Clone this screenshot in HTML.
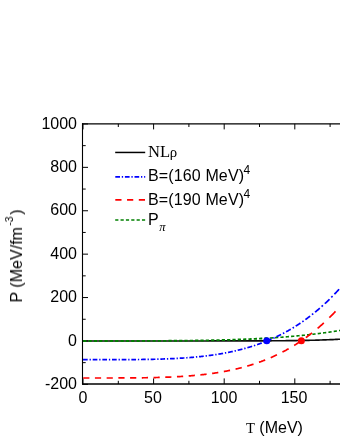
<!DOCTYPE html>
<html><head><meta charset="utf-8"><style>
html,body{margin:0;padding:0;background:#fff;}
body{width:340px;height:440px;position:relative;overflow:hidden;font-family:"Liberation Sans",sans-serif;font-size:16px;color:#000;}
.t{position:absolute;will-change:transform;white-space:nowrap;line-height:16px;}
.yl{text-align:right;width:60px;left:16.5px;}
.xl{text-align:center;width:60px;}
.s{font-family:"Liberation Serif",serif;}
sup,sub{font-size:12px;line-height:0;}
</style></head><body>
<svg width="340" height="440" viewBox="0 0 340 440" style="position:absolute;left:0;top:0"><path d="M82.5 384.6 L82.5 123.2" fill="none" stroke="#000" stroke-width="1.1"/><path d="M82 123.8 L340 123.8" fill="none" stroke="#000" stroke-width="1.2"/><path d="M82 384.0 L340 384.0" fill="none" stroke="#000" stroke-width="1.5"/><path d="M82.5 384.35 h5.5 M82.5 362.65 h3.2 M82.5 340.95 h5.5 M82.5 319.25 h3.2 M82.5 297.55 h5.5 M82.5 275.85 h3.2 M82.5 254.15 h5.5 M82.5 232.45 h3.2 M82.5 210.75 h5.5 M82.5 189.05 h3.2 M82.5 167.35 h5.5 M82.5 145.65 h3.2 M82.5 123.95 h5.5 M83.00 384 v-5.6 M83.00 123.8 v5.6 M118.30 384 v-3.2 M118.30 123.8 v3.2 M153.60 384 v-5.6 M153.60 123.8 v5.6 M188.90 384 v-3.2 M188.90 123.8 v3.2 M224.20 384 v-5.6 M224.20 123.8 v5.6 M259.50 384 v-3.2 M259.50 123.8 v3.2 M294.80 384 v-5.6 M294.80 123.8 v5.6 M330.10 384 v-3.2 M330.10 123.8 v3.2" fill="none" stroke="#000" stroke-width="1"/><path d="M83.00 340.95 L84.41 340.95 L85.82 340.95 L87.24 340.95 L88.65 340.95 L90.06 340.95 L91.47 340.95 L92.88 340.95 L94.30 340.95 L95.71 340.95 L97.12 340.95 L98.53 340.95 L99.94 340.95 L101.36 340.95 L102.77 340.95 L104.18 340.95 L105.59 340.95 L107.00 340.95 L108.42 340.95 L109.83 340.95 L111.24 340.95 L112.65 340.95 L114.06 340.95 L115.48 340.95 L116.89 340.95 L118.30 340.95 L119.71 340.95 L121.12 340.95 L122.54 340.95 L123.95 340.95 L125.36 340.95 L126.77 340.95 L128.18 340.95 L129.60 340.95 L131.01 340.95 L132.42 340.95 L133.83 340.95 L135.24 340.95 L136.66 340.95 L138.07 340.95 L139.48 340.95 L140.89 340.95 L142.30 340.95 L143.72 340.95 L145.13 340.95 L146.54 340.95 L147.95 340.95 L149.36 340.95 L150.78 340.95 L152.19 340.95 L153.60 340.95 L155.01 340.95 L156.42 340.95 L157.84 340.95 L159.25 340.95 L160.66 340.95 L162.07 340.95 L163.48 340.95 L164.90 340.95 L166.31 340.95 L167.72 340.95 L169.13 340.95 L170.54 340.95 L171.96 340.95 L173.37 340.95 L174.78 340.95 L176.19 340.95 L177.60 340.95 L179.02 340.95 L180.43 340.95 L181.84 340.95 L183.25 340.95 L184.66 340.95 L186.08 340.95 L187.49 340.95 L188.90 340.95 L190.31 340.95 L191.72 340.95 L193.14 340.95 L194.55 340.95 L195.96 340.95 L197.37 340.95 L198.78 340.95 L200.20 340.95 L201.61 340.95 L203.02 340.95 L204.43 340.95 L205.84 340.95 L207.26 340.94 L208.67 340.94 L210.08 340.94 L211.49 340.94 L212.90 340.94 L214.32 340.94 L215.73 340.94 L217.14 340.94 L218.55 340.94 L219.96 340.94 L221.38 340.94 L222.79 340.94 L224.20 340.94 L225.61 340.93 L227.02 340.93 L228.44 340.93 L229.85 340.93 L231.26 340.93 L232.67 340.93 L234.08 340.93 L235.50 340.92 L236.91 340.92 L238.32 340.92 L239.73 340.92 L241.14 340.91 L242.56 340.91 L243.97 340.91 L245.38 340.91 L246.79 340.90 L248.20 340.90 L249.62 340.90 L251.03 340.89 L252.44 340.89 L253.85 340.88 L255.26 340.88 L256.68 340.87 L258.09 340.87 L259.50 340.86 L260.91 340.86 L262.32 340.85 L263.74 340.85 L265.15 340.84 L266.56 340.83 L267.97 340.82 L269.38 340.82 L270.80 340.81 L272.21 340.80 L273.62 340.79 L275.03 340.78 L276.44 340.77 L277.86 340.76 L279.27 340.75 L280.68 340.74 L282.09 340.72 L283.50 340.71 L284.92 340.70 L286.33 340.68 L287.74 340.67 L289.15 340.65 L290.56 340.64 L291.98 340.62 L293.39 340.60 L294.80 340.58 L296.21 340.56 L297.62 340.54 L299.04 340.52 L300.45 340.49 L301.86 340.47 L303.27 340.44 L304.68 340.42 L306.10 340.39 L307.51 340.36 L308.92 340.33 L310.33 340.30 L311.74 340.27 L313.16 340.23 L314.57 340.20 L315.98 340.16 L317.39 340.12 L318.80 340.08 L320.22 340.03 L321.63 339.99 L323.04 339.94 L324.45 339.90 L325.86 339.85 L327.28 339.79 L328.69 339.74 L330.10 339.68 L331.51 339.62 L332.92 339.56 L334.34 339.50 L335.75 339.43 L337.16 339.36 L338.57 339.29 L339.98 339.21 L341.40 339.14 L342.81 339.06" fill="none" stroke="#0c0c0c" stroke-width="1.65"/><path d="M83.20 340.95 L83.73 340.95 L84.27 340.95 L84.80 340.95 L85.33 340.95 L85.87 340.95 L86.40 340.95 M88.53 340.95 L89.06 340.95 L89.60 340.95 L90.13 340.95 L90.66 340.95 L91.20 340.95 L91.73 340.95 M93.86 340.95 L94.39 340.95 L94.93 340.95 L95.46 340.95 L95.99 340.95 L96.53 340.95 L97.06 340.95 M99.19 340.95 L99.72 340.95 L100.26 340.95 L100.79 340.95 L101.32 340.95 L101.86 340.95 L102.39 340.95 M104.52 340.95 L105.05 340.95 L105.59 340.95 L106.12 340.95 L106.65 340.95 L107.19 340.95 L107.72 340.95 M109.85 340.95 L110.38 340.95 L110.92 340.95 L111.45 340.95 L111.98 340.95 L112.52 340.95 L113.05 340.95 M115.18 340.95 L115.71 340.95 L116.25 340.95 L116.78 340.95 L117.31 340.95 L117.85 340.95 L118.38 340.95 M120.51 340.95 L121.04 340.94 L121.58 340.94 L122.11 340.94 L122.64 340.94 L123.18 340.94 L123.71 340.94 M125.84 340.94 L126.37 340.94 L126.91 340.94 L127.44 340.94 L127.97 340.94 L128.51 340.94 L129.04 340.94 M131.17 340.94 L131.70 340.94 L132.24 340.94 L132.77 340.94 L133.30 340.93 L133.84 340.93 L134.37 340.93 M136.50 340.93 L137.03 340.93 L137.57 340.93 L138.10 340.93 L138.63 340.93 L139.17 340.93 L139.70 340.93 M141.83 340.92 L142.36 340.92 L142.90 340.92 L143.43 340.92 L143.96 340.92 L144.50 340.92 L145.03 340.91 M147.16 340.91 L147.69 340.91 L148.23 340.91 L148.76 340.91 L149.29 340.90 L149.83 340.90 L150.36 340.90 M152.49 340.89 L153.02 340.89 L153.56 340.89 L154.09 340.89 L154.62 340.89 L155.16 340.88 L155.69 340.88 M157.82 340.87 L158.35 340.87 L158.89 340.87 L159.42 340.87 L159.95 340.87 L160.49 340.86 L161.02 340.86 M163.15 340.85 L163.68 340.85 L164.22 340.85 L164.75 340.84 L165.28 340.84 L165.82 340.84 L166.35 340.83 M168.48 340.82 L169.01 340.82 L169.55 340.82 L170.08 340.81 L170.61 340.81 L171.15 340.80 L171.68 340.80 M173.81 340.79 L174.34 340.78 L174.88 340.78 L175.41 340.77 L175.94 340.77 L176.48 340.77 L177.01 340.76 M179.14 340.74 L179.67 340.74 L180.21 340.74 L180.74 340.73 L181.27 340.73 L181.81 340.72 L182.34 340.72 M184.47 340.70 L185.00 340.69 L185.54 340.68 L186.07 340.68 L186.60 340.67 L187.14 340.67 L187.67 340.66 M189.80 340.64 L190.33 340.63 L190.87 340.62 L191.40 340.62 L191.93 340.61 L192.47 340.61 L193.00 340.60 M195.13 340.57 L195.66 340.56 L196.20 340.56 L196.73 340.55 L197.26 340.54 L197.80 340.53 L198.33 340.53 M200.46 340.49 L200.99 340.48 L201.53 340.48 L202.06 340.47 L202.59 340.46 L203.13 340.45 L203.66 340.44 M205.79 340.40 L206.32 340.39 L206.86 340.38 L207.39 340.37 L207.92 340.37 L208.46 340.35 L208.99 340.34 M211.12 340.30 L211.65 340.29 L212.19 340.28 L212.72 340.27 L213.25 340.26 L213.79 340.25 L214.32 340.24 M216.45 340.19 L216.98 340.18 L217.52 340.16 L218.05 340.15 L218.58 340.14 L219.12 340.13 L219.65 340.11 M221.78 340.06 L222.31 340.05 L222.85 340.03 L223.38 340.02 L223.91 340.00 L224.45 339.99 L224.98 339.97 M227.11 339.91 L227.64 339.90 L228.18 339.88 L228.71 339.87 L229.24 339.85 L229.78 339.84 L230.31 339.82 M232.44 339.75 L232.97 339.73 L233.51 339.72 L234.04 339.70 L234.57 339.68 L235.11 339.66 L235.64 339.65 M237.77 339.57 L238.30 339.55 L238.84 339.53 L239.37 339.51 L239.90 339.49 L240.44 339.47 L240.97 339.45 M243.10 339.37 L243.63 339.35 L244.17 339.33 L244.70 339.31 L245.23 339.29 L245.77 339.26 L246.30 339.24 M248.43 339.15 L248.96 339.13 L249.50 339.10 L250.03 339.08 L250.56 339.06 L251.10 339.03 L251.63 339.01 M253.76 338.91 L254.29 338.88 L254.83 338.86 L255.36 338.83 L255.89 338.80 L256.43 338.78 L256.96 338.75 M259.09 338.64 L259.62 338.61 L260.16 338.58 L260.69 338.56 L261.22 338.53 L261.76 338.50 L262.29 338.47 M264.42 338.35 L264.95 338.32 L265.49 338.29 L266.02 338.25 L266.55 338.22 L267.09 338.19 L267.62 338.16" fill="none" stroke="#008000" stroke-width="1.9"/><path d="M269.75 338.03 L270.28 337.99 L270.82 337.96 L271.35 337.93 L271.88 337.89 L272.42 337.86 L272.95 337.82 M275.08 337.68 L275.61 337.64 L276.15 337.61 L276.68 337.57 L277.21 337.53 L277.75 337.49 L278.28 337.46 M280.41 337.30 L280.94 337.26 L281.48 337.22 L282.01 337.18 L282.54 337.14 L283.08 337.10 L283.61 337.06 M285.74 336.89 L286.27 336.85 L286.81 336.81 L287.34 336.76 L287.87 336.72 L288.41 336.67 L288.94 336.63 M291.07 336.45 L291.60 336.40 L292.14 336.35 L292.67 336.31 L293.20 336.26 L293.74 336.21 L294.27 336.16 M296.40 335.97 L296.93 335.92 L297.47 335.87 L298.00 335.82 L298.53 335.77 L299.07 335.71 L299.60 335.66 M301.73 335.45 L302.26 335.40 L302.80 335.34 L303.33 335.29 L303.86 335.23 L304.40 335.18 L304.93 335.12 M307.06 334.90 L307.59 334.84 L308.13 334.78 L308.66 334.72 L309.19 334.66 L309.73 334.60 L310.26 334.54 M312.39 334.30 L312.92 334.24 L313.46 334.17 L313.99 334.11 L314.52 334.05 L315.06 333.98 L315.59 333.92 M317.72 333.66 L318.25 333.59 L318.79 333.53 L319.32 333.46 L319.85 333.39 L320.39 333.32 L320.92 333.25 M323.05 332.97 L323.58 332.90 L324.12 332.83 L324.65 332.76 L325.18 332.69 L325.72 332.61 L326.25 332.54 M328.38 332.24 L328.91 332.17 L329.45 332.09 L329.98 332.01 L330.51 331.93 L331.05 331.86 L331.58 331.78 M333.71 331.46 L334.24 331.38 L334.78 331.30 L335.31 331.22 L335.84 331.13 L336.38 331.05 L336.91 330.97 M339.04 330.63 L339.63 330.53 L340.22 330.43 L340.82 330.34 L341.41 330.24 L342.00 330.14" fill="none" stroke="#008000" stroke-width="1.6"/><path d="M83.00 359.68 L83.52 359.68 L84.04 359.68 L84.57 359.68 L85.09 359.68 L85.61 359.68 L86.13 359.68 L86.66 359.68 L87.18 359.68 L87.70 359.68 M89.55 359.68 L90.20 359.68 L90.85 359.68 M92.67 359.68 L93.19 359.68 L93.71 359.68 L94.24 359.68 L94.76 359.68 L95.28 359.68 L95.80 359.68 L96.33 359.68 L96.85 359.68 L97.37 359.68 M99.22 359.68 L99.87 359.68 L100.52 359.68 M102.34 359.67 L102.86 359.67 L103.38 359.67 L103.91 359.67 L104.43 359.67 L104.95 359.67 L105.47 359.67 L106.00 359.67 L106.52 359.67 L107.04 359.67 M108.89 359.67 L109.54 359.67 L110.19 359.67 M112.01 359.67 L112.53 359.66 L113.05 359.66 L113.58 359.66 L114.10 359.66 L114.62 359.66 L115.14 359.66 L115.67 359.66 L116.19 359.66 L116.71 359.66 M118.56 359.65 L119.21 359.65 L119.86 359.65 M121.68 359.64 L122.20 359.64 L122.72 359.64 L123.25 359.63 L123.77 359.63 L124.29 359.63 L124.81 359.63 L125.34 359.62 L125.86 359.62 L126.38 359.62 M128.23 359.61 L128.88 359.60 L129.53 359.60 M131.35 359.59 L131.87 359.58 L132.39 359.58 L132.92 359.58 L133.44 359.57 L133.96 359.57 L134.48 359.56 L135.01 359.56 L135.53 359.55 L136.05 359.55 M137.90 359.53 L138.55 359.52 L139.20 359.51 M141.02 359.49 L141.54 359.48 L142.06 359.48 L142.59 359.47 L143.11 359.46 L143.63 359.46 L144.15 359.45 L144.68 359.44 L145.20 359.43 L145.72 359.42 M147.57 359.39 L148.22 359.38 L148.87 359.37 M150.69 359.33 L151.21 359.32 L151.73 359.31 L152.26 359.30 L152.78 359.29 L153.30 359.28 L153.82 359.27 L154.35 359.25 L154.87 359.24 L155.39 359.23 M157.24 359.18 L157.89 359.16 L158.54 359.14 M160.36 359.09 L160.88 359.07 L161.40 359.06 L161.93 359.04 L162.45 359.02 L162.97 359.01 L163.49 358.99 L164.02 358.97 L164.54 358.95 L165.06 358.93 M166.91 358.87 L167.56 358.84 L168.21 358.81 M170.03 358.74 L170.55 358.71 L171.07 358.69 L171.60 358.67 L172.12 358.64 L172.64 358.62 L173.16 358.59 L173.69 358.57 L174.21 358.54 L174.73 358.52 M176.58 358.42 L177.23 358.39 L177.88 358.35 M179.70 358.25 L180.22 358.21 L180.74 358.18 L181.27 358.15 L181.79 358.12 L182.31 358.08 L182.83 358.05 L183.36 358.02 L183.88 357.98 L184.40 357.95 M186.25 357.82 L186.90 357.77 L187.55 357.72 M189.37 357.58 L189.89 357.54 L190.41 357.50 L190.94 357.45 L191.46 357.41 L191.98 357.37 L192.50 357.32 L193.03 357.28 L193.55 357.23 L194.07 357.18 M195.92 357.01 L196.57 356.95 L197.22 356.89 M199.04 356.71 L199.56 356.65 L200.08 356.60 L200.61 356.54 L201.13 356.49 L201.65 356.43 L202.17 356.37 L202.70 356.32 L203.22 356.26 L203.74 356.20 M205.59 355.98 L206.24 355.90 L206.89 355.82 M208.71 355.59 L209.23 355.52 L209.75 355.45 L210.28 355.38 L210.80 355.31 L211.32 355.24 L211.84 355.16 L212.37 355.09 L212.89 355.02 L213.41 354.94 M215.26 354.67 L215.91 354.57 L216.56 354.47 M218.38 354.18 L218.90 354.09 L219.42 354.00 L219.95 353.92 L220.47 353.83 L220.99 353.74 L221.51 353.65 L222.04 353.56 L222.56 353.46 L223.08 353.37 M224.93 353.03 L225.58 352.91 L226.23 352.78 M228.05 352.43 L228.57 352.32 L229.09 352.22 L229.62 352.11 L230.14 352.00 L230.66 351.89 L231.18 351.78 L231.71 351.67 L232.23 351.56 L232.75 351.44 M234.60 351.03 L235.25 350.88 L235.90 350.73 M237.72 350.29 L238.24 350.16 L238.76 350.04 L239.29 349.91 L239.81 349.78 L240.33 349.64 L240.85 349.51 L241.38 349.37 L241.90 349.24 L242.42 349.10 M244.27 348.60 L244.92 348.42 L245.57 348.24 M247.39 347.72 L247.91 347.56 L248.43 347.41 L248.96 347.25 L249.48 347.10 L250.00 346.94 L250.52 346.78 L251.05 346.62 L251.57 346.45 L252.09 346.29 M253.94 345.69 L254.59 345.48 L255.24 345.26 M257.06 344.64 L257.58 344.46 L258.10 344.28 L258.63 344.10 L259.15 343.91 L259.67 343.72 L260.19 343.53 L260.72 343.34 L261.24 343.15 L261.76 342.95 M263.61 342.25 L264.26 342.00 L264.91 341.74 M266.73 341.01 L267.25 340.80 L267.77 340.59 L268.30 340.37 L268.82 340.15 L269.34 339.93 L269.86 339.71 L270.39 339.48 L270.91 339.26 L271.43 339.03 M273.28 338.21 L273.93 337.91 L274.58 337.62 M276.40 336.76 L276.92 336.52 L277.44 336.27 L277.97 336.01 L278.49 335.76 L279.01 335.50 L279.53 335.24 L280.06 334.98 L280.58 334.72 L281.10 334.46 M282.95 333.50 L283.60 333.16 L284.25 332.81 M286.07 331.83 L286.59 331.54 L287.11 331.25 L287.64 330.96 L288.16 330.66 L288.68 330.37 L289.20 330.07 L289.73 329.77 L290.25 329.46 L290.77 329.16 M292.62 328.06 L293.27 327.66 L293.92 327.26 M295.74 326.13 L296.26 325.80 L296.78 325.47 L297.31 325.13 L297.83 324.79 L298.35 324.45 L298.87 324.11 L299.40 323.77 L299.92 323.42 L300.44 323.07 M302.29 321.81 L302.94 321.35 L303.59 320.90 M305.41 319.60 L305.93 319.23 L306.45 318.85 L306.98 318.46 L307.50 318.08 L308.02 317.69 L308.54 317.30 L309.07 316.90 L309.59 316.51 L310.11 316.11 M311.96 314.67 L312.61 314.16 L313.26 313.64 M315.08 312.17 L315.60 311.74 L316.12 311.31 L316.65 310.87 L317.17 310.43 L317.69 309.99 L318.21 309.55 L318.74 309.10 L319.26 308.65 L319.78 308.20 M321.63 306.57 L322.28 305.99 L322.93 305.40 M324.75 303.74 L325.27 303.25 L325.79 302.77 L326.32 302.27 L326.84 301.78 L327.36 301.28 L327.88 300.78 L328.41 300.28 L328.93 299.77 L329.45 299.26 M331.30 297.43 L331.95 296.77 L332.60 296.11 M334.42 294.24 L334.94 293.69 L335.46 293.14 L335.99 292.59 L336.51 292.04 L337.03 291.48 L337.55 290.91 L338.08 290.35 L338.60 289.78 L339.12 289.21 M340.97 287.15 L341.49 286.57 L342.00 285.98" fill="none" stroke="#0000ff" stroke-width="1.7"/><path d="M83.20 377.99 L83.72 377.99 L84.23 377.99 L84.75 377.99 L85.27 377.99 L85.78 377.99 L86.30 377.99 L86.82 377.99 L87.33 377.99 L87.85 377.99 L88.37 377.99 L88.88 377.99 L89.40 377.99 M94.92 377.99 L95.44 377.99 L95.95 377.99 L96.47 377.99 L96.99 377.99 L97.50 377.99 L98.02 377.99 L98.54 377.99 L99.05 377.99 L99.57 377.99 L100.09 377.99 L100.60 377.99 L101.12 377.99 M106.64 377.99 L107.16 377.99 L107.67 377.99 L108.19 377.99 L108.71 377.98 L109.22 377.98 L109.74 377.98 L110.26 377.98 L110.77 377.98 L111.29 377.98 L111.81 377.98 L112.32 377.98 L112.84 377.98 M118.36 377.97 L118.88 377.96 L119.39 377.96 L119.91 377.96 L120.43 377.96 L120.94 377.96 L121.46 377.96 L121.98 377.95 L122.49 377.95 L123.01 377.95 L123.53 377.95 L124.04 377.95 L124.56 377.94 M130.08 377.91 L130.60 377.91 L131.11 377.90 L131.63 377.90 L132.15 377.90 L132.66 377.89 L133.18 377.89 L133.70 377.88 L134.21 377.88 L134.73 377.87 L135.25 377.87 L135.76 377.86 L136.28 377.86 M141.80 377.80 L142.32 377.79 L142.83 377.78 L143.35 377.77 L143.87 377.77 L144.38 377.76 L144.90 377.75 L145.42 377.74 L145.93 377.73 L146.45 377.73 L146.97 377.72 L147.48 377.71 L148.00 377.70 M153.52 377.59 L154.04 377.57 L154.55 377.56 L155.07 377.55 L155.59 377.54 L156.10 377.52 L156.62 377.51 L157.14 377.50 L157.65 377.48 L158.17 377.47 L158.69 377.45 L159.20 377.44 L159.72 377.42 M165.24 377.24 L165.76 377.22 L166.27 377.20 L166.79 377.18 L167.31 377.16 L167.82 377.14 L168.34 377.12 L168.86 377.10 L169.37 377.08 L169.89 377.06 L170.41 377.04 L170.92 377.01 L171.44 376.99 M176.96 376.72 L177.48 376.69 L177.99 376.66 L178.51 376.63 L179.03 376.60 L179.54 376.57 L180.06 376.54 L180.58 376.51 L181.09 376.48 L181.61 376.44 L182.13 376.41 L182.64 376.38 L183.16 376.34 M188.68 375.95 L189.20 375.91 L189.71 375.87 L190.23 375.83 L190.75 375.78 L191.26 375.74 L191.78 375.70 L192.30 375.65 L192.81 375.61 L193.33 375.57 L193.85 375.52 L194.36 375.47 L194.88 375.43 M200.40 374.88 L200.92 374.83 L201.43 374.77 L201.95 374.71 L202.47 374.66 L202.98 374.60 L203.50 374.54 L204.02 374.48 L204.53 374.42 L205.05 374.36 L205.57 374.30 L206.08 374.23 L206.60 374.17 M212.12 373.44 L212.64 373.37 L213.15 373.29 L213.67 373.22 L214.19 373.14 L214.70 373.06 L215.22 372.99 L215.74 372.91 L216.25 372.83 L216.77 372.75 L217.29 372.67 L217.80 372.58 L218.32 372.50 M223.84 371.55 L224.36 371.45 L224.87 371.36 L225.39 371.26 L225.91 371.16 L226.42 371.06 L226.94 370.96 L227.46 370.86 L227.97 370.76 L228.49 370.65 L229.01 370.55 L229.52 370.44 L230.04 370.34 M235.56 369.12 L236.08 369.00 L236.59 368.88 L237.11 368.75 L237.63 368.63 L238.14 368.50 L238.66 368.38 L239.18 368.25 L239.69 368.12 L240.21 367.99 L240.73 367.86 L241.24 367.72 L241.76 367.59 M247.28 366.06 L247.80 365.91 L248.31 365.76 L248.83 365.61 L249.35 365.45 L249.86 365.30 L250.38 365.14 L250.90 364.98 L251.41 364.82 L251.93 364.65 L252.45 364.49 L252.96 364.33 L253.48 364.16 M259.00 362.28 L259.52 362.09 L260.03 361.91 L260.55 361.72 L261.07 361.53 L261.58 361.33 L262.10 361.14 L262.62 360.95 L263.13 360.75 L263.65 360.55 L264.17 360.35 L264.68 360.15 L265.20 359.94 M270.72 357.66 L271.24 357.43 L271.75 357.20 L272.27 356.97 L272.79 356.74 L273.30 356.51 L273.82 356.28 L274.34 356.04 L274.85 355.80 L275.37 355.56 L275.89 355.32 L276.40 355.08 L276.92 354.83 M282.44 352.08 L282.96 351.81 L283.47 351.54 L283.99 351.27 L284.51 350.99 L285.02 350.71 L285.54 350.43 L286.06 350.15 L286.57 349.86 L287.09 349.58 L287.61 349.29 L288.12 349.00 L288.64 348.71 M294.16 345.43 L294.68 345.11 L295.19 344.79 L295.71 344.46 L296.23 344.14 L296.74 343.81 L297.26 343.48 L297.78 343.14 L298.29 342.81 L298.81 342.47 L299.33 342.13 L299.84 341.78 L300.36 341.44 M305.88 337.58 L306.40 337.20 L306.91 336.82 L307.43 336.44 L307.95 336.06 L308.46 335.67 L308.98 335.28 L309.50 334.89 L310.01 334.50 L310.53 334.10 L311.05 333.70 L311.56 333.30 L312.08 332.89 M317.60 328.38 L318.12 327.95 L318.63 327.50 L319.15 327.06 L319.67 326.61 L320.18 326.16 L320.70 325.71 L321.22 325.25 L321.73 324.79 L322.25 324.33 L322.77 323.87 L323.28 323.40 L323.80 322.93 M329.32 317.70 L329.84 317.20 L330.35 316.68 L330.87 316.17 L331.39 315.65 L331.90 315.13 L332.42 314.61 L332.94 314.08 L333.45 313.55 L333.97 313.02 L334.49 312.48 L335.00 311.94 L335.52 311.40 M341.04 305.38 L342.00 304.30" fill="none" stroke="#ff0000" stroke-width="1.7"/><circle cx="266.76" cy="340.65" r="3.5" fill="#0000ff"/><circle cx="301.35" cy="340.65" r="3.5" fill="#ff0000"/><path d="M115.2 152.45 H145.2" stroke="#000" stroke-width="1.5"/><path d="M115.3 176.8 H145.2" stroke="#0000ff" stroke-width="1.7" stroke-dasharray="4.7 1.8 1.3 1.8"/><path d="M115.3 199.9 H145.2" stroke="#ff0000" stroke-width="1.7" stroke-dasharray="6.2 5.55"/><path d="M115.2 220 H145.2" stroke="#008000" stroke-width="1.6" stroke-dasharray="3.2 2.15"/></svg>
<div class="t yl" style="top:115.65px">1000</div>
<div class="t yl" style="top:159.05px">800</div>
<div class="t yl" style="top:202.45px">600</div>
<div class="t yl" style="top:245.85px">400</div>
<div class="t yl" style="top:289.25px">200</div>
<div class="t yl" style="top:332.65px">0</div>
<div class="t yl" style="top:376.05px">-200</div>
<div class="t xl" style="top:389.6px;left:52.5px">0</div>
<div class="t xl" style="top:389.6px;left:123px">50</div>
<div class="t xl" style="top:389.6px;left:193.6px">100</div>
<div class="t xl" style="top:389.6px;left:264.3px">150</div>
<div class="t" style="top:420.4px;left:246px"><span class="s" style="font-size:14.6px">T</span> (MeV)</div>
<div class="t" style="left:17.2px;top:255.7px;letter-spacing:0.02px;transform:translate(-50%,-50%) rotate(-90deg);">P (MeV/fm<sup style="position:relative;top:-9.2px;vertical-align:baseline;font-size:10.5px;margin:0 1.6px 0 1.2px">-3</sup>)</div>
<div class="t s" style="left:147.7px;top:143.8px;font-size:16.6px">NL<span style="font-size:14.8px;position:relative;left:-0.4px">&rho;</span></div>
<div class="t" style="left:147.9px;top:168px;letter-spacing:0.13px">B=(160 MeV)<sup style="position:relative;top:-6.8px;left:-0.6px;vertical-align:baseline">4</sup></div>
<div class="t" style="left:147.9px;top:191.5px;letter-spacing:0.13px">B=(190 MeV)<sup style="position:relative;top:-6.8px;left:-0.6px;vertical-align:baseline">4</sup></div>
<div class="t" style="left:148px;top:211.5px;">P<sub class="s" style="position:relative;top:6.1px;left:0.5px;vertical-align:baseline;font-size:12.6px;font-style:italic">&pi;</sub></div>
</body></html>
